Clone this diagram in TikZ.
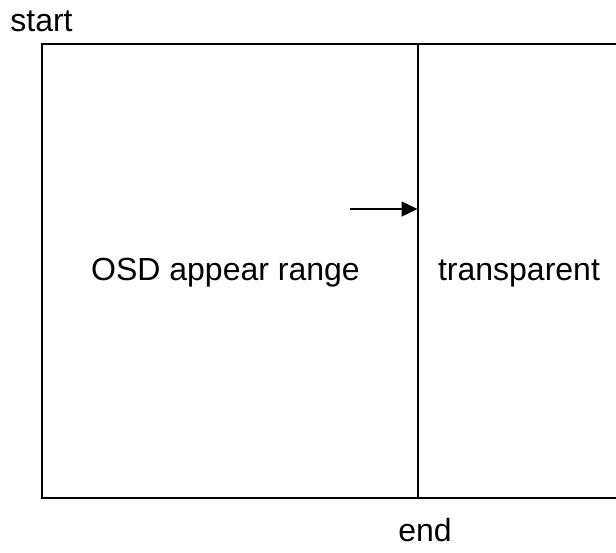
\documentclass[tikz,border=0pt]{standalone}
\usepackage{fontspec}
\setmainfont{Liberation Sans}
\usetikzlibrary{arrows.meta}
\tikzset{
  lbl/.style={inner sep=0pt, anchor=base, font=\fontsize{32}{38}\selectfont, text=black},
  frame/.style={line width=1.4pt, draw=black},
  divider/.style={line width=1.9pt, draw=black},
  pointer/.style={line width=1.4pt, -{Triangle[length=16pt,width=15pt]}}
}
\begin{document}
\begin{tikzpicture}[x=1pt,y=-1pt]
\useasboundingbox (0,0) rectangle (616,552);
\coordinate (tl) at (42,44);
\coordinate (tr) at (618,44);
\coordinate (bl) at (42,498);
\coordinate (br) at (618,498);
\coordinate (dtop) at (418,44);
\coordinate (dbot) at (418,498);
\draw[frame] (tr) -- (tl) -- (bl) -- (br);
\draw[divider] (dtop) -- (dbot);
\coordinate (astart) at (350,209);
\coordinate (aend) at (417.5,209);
\draw[pointer] (astart) -- (aend);
\node[lbl] (start) at (41.5,31) {start};
\node[lbl] (end) at (425,541.5) {end};
\node[lbl] (osd) at (225.5,280) {OSD appear range};
\node[lbl] (transp) at (519,280) {transparent};
\end{tikzpicture}
\end{document}
